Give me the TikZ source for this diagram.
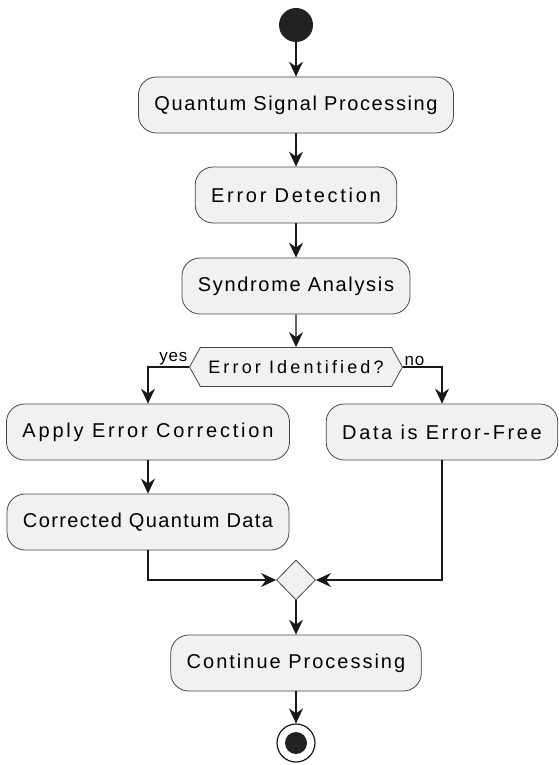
\documentclass[tikz,border=0pt]{standalone}
\usepackage{fontspec}
\setmainfont{Liberation Sans}
\usetikzlibrary{arrows.meta,shapes.geometric,shapes.symbols,positioning}

\definecolor{actfill}{HTML}{F1F1F1}
\definecolor{actline}{HTML}{181818}
\definecolor{dotfill}{HTML}{222222}

\tikzset{
  % activity box; the argument is the letter spacing of its text
  act/.style={draw=actline!80, fill=actfill, line width=0.8pt, rounded corners=18pt,
    minimum height=56pt, inner xsep=16pt,
    font=\fontsize{20}{24}\selectfont\addfontfeature{LetterSpace=#1}},
  act/.default=8,
  check/.style={draw=actline!80, fill=actfill, line width=0.8pt, signal,
    signal to=west and east, signal pointer angle=122, minimum height=39pt, inner xsep=8pt,
    font=\fontsize{18}{22}\selectfont\addfontfeature{LetterSpace=17.5}},
  merge/.style={draw=actline!80, fill=actfill, line width=0.8pt, diamond,
    minimum width=39pt, minimum height=40pt, inner sep=0pt},
  startdot/.style={circle, fill=dotfill, minimum size=34pt, inner sep=0pt},
  stopdot/.style={circle, draw=actline, line width=1.2pt, fill=white, minimum size=38pt, inner sep=0pt,
    path picture={\fill[dotfill] (path picture bounding box.center) circle (11pt);}},
  lbl/.style={inner sep=1pt, font=\fontsize{17}{20}\selectfont\addfontfeature{LetterSpace=5}},
  flow/.style={draw=actline, line width=1.2pt, -{Stealth[length=15pt,width=14pt,inset=5pt]}}
}

\begin{document}
\begin{tikzpicture}[x=1pt,y=-1pt]
  \useasboundingbox (0,0) rectangle (558,765);

  \node[startdot] (start) at (296,25) {};
  \node[act=8] (qsp) at (296,105) {Quantum Signal Processing};
  \node[act=13.5] (detect) at (296,195) {Error Detection};
  \node[act=8.3] (syndrome) at (296,286) {Syndrome Analysis};
  \node[check] (ident) at (296,367) {Error Identified?};
  \node[act=14] (apply) at (148,432) {Apply Error Correction};
  \node[act=13.2] (free) at (442,432) {Data is Error-Free};
  \node[act=7] (corrected) at (148,522) {Corrected Quantum Data};
  \node[merge] (merge) at (296,580) {};
  \node[act=10] (cont) at (296,663) {Continue Processing};
  \node[stopdot] (stop) at (296,743) {};

  \draw[flow] (start) -- (qsp);
  \draw[flow] (qsp) -- (detect);
  \draw[flow] (detect) -- (syndrome);
  \draw[flow] (syndrome) -- (ident);
  \draw[flow] (ident.west) node[lbl, anchor=south east] {yes} -| (apply.north);
  \draw[flow] (ident.east) node[lbl, anchor=south west] {no} -| (free.north);
  \draw[flow] (apply) -- (corrected);
  \draw[flow] (corrected.south) |- (merge.west);
  \draw[flow] (free.south) |- (merge.east);
  \draw[flow] (merge) -- (cont);
  \draw[flow] (cont) -- (stop);
\end{tikzpicture}
\end{document}
